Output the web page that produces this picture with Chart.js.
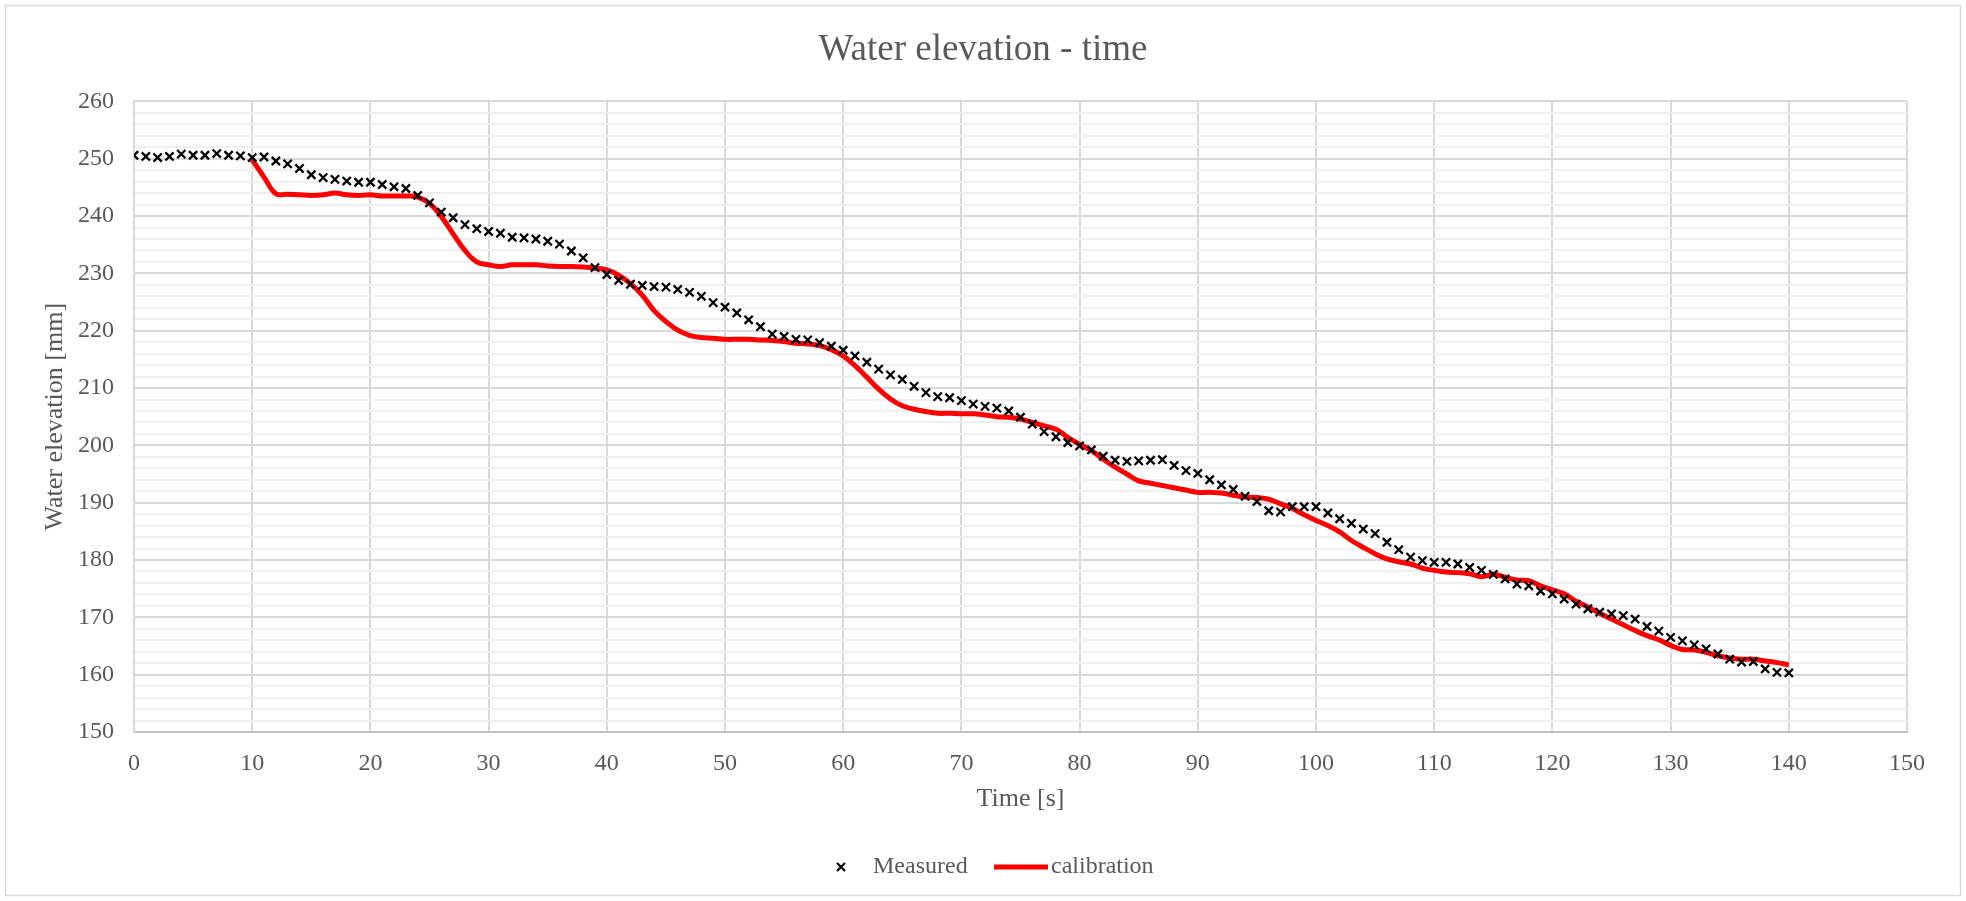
<!DOCTYPE html>
<html>
<head>
<meta charset="utf-8">
<title>Water elevation - time</title>
<script src="https://cdn.jsdelivr.net/npm/chart.js@4.4.1/dist/chart.umd.min.js"></script>
<style>
  html, body { margin: 0; padding: 0; background: #fff; }
  canvas { display: block; }
</style>
</head>
<body>
<canvas id="chart" width="1966" height="901"></canvas>
<script>
// Measured water elevation, one reading per second
const measuredTime = [
  0, 1, 2, 3, 4, 5, 6, 7, 8, 9, 10, 11, 12, 13, 14, 15, 16, 17, 18, 19,
  20, 21, 22, 23, 24, 25, 26, 27, 28, 29, 30, 31, 32, 33, 34, 35, 36, 37, 38, 39,
  40, 41, 42, 43, 44, 45, 46, 47, 48, 49, 50, 51, 52, 53, 54, 55, 56, 57, 58, 59,
  60, 61, 62, 63, 64, 65, 66, 67, 68, 69, 70, 71, 72, 73, 74, 75, 76, 77, 78, 79,
  80, 81, 82, 83, 84, 85, 86, 87, 88, 89, 90, 91, 92, 93, 94, 95, 96, 97, 98, 99,
  100, 101, 102, 103, 104, 105, 106, 107, 108, 109, 110, 111, 112, 113, 114, 115, 116, 117, 118, 119,
  120, 121, 122, 123, 124, 125, 126, 127, 128, 129, 130, 131, 132, 133, 134, 135, 136, 137, 138, 139,
  140
];
const measuredElevation = [
  250.6, 250.4, 250.2, 250.4, 250.8, 250.6, 250.6, 250.9, 250.6, 250.5,
  250.2, 250.3, 249.6, 249.1, 248.3, 247.2, 246.7, 246.4, 246.1, 245.9,
  245.9, 245.5, 245.1, 244.8, 243.6, 242.3, 240.7, 239.7, 238.5, 237.8,
  237.3, 237.0, 236.3, 236.2, 236.0, 235.6, 235.1, 233.9, 232.7, 231.0,
  229.8, 228.8, 228.1, 227.9, 227.7, 227.6, 227.2, 226.7, 226.0, 224.9,
  224.1, 223.1, 221.9, 220.7, 219.4, 219.0, 218.5, 218.4, 217.9, 217.3,
  216.6, 215.6, 214.5, 213.3, 212.3, 211.5, 210.3, 209.2, 208.5, 208.3,
  207.8, 207.2, 206.8, 206.5, 206.0, 204.9, 203.7, 202.4, 201.5, 200.5,
  199.9, 199.2, 198.1, 197.4, 197.2, 197.3, 197.4, 197.5, 196.5, 195.6,
  195.1, 194.0, 193.1, 192.3, 191.1, 190.2, 188.6, 188.4, 189.3, 189.3,
  189.3, 188.2, 187.2, 186.4, 185.4, 184.6, 183.1, 181.8, 180.5, 179.9,
  179.6, 179.6, 179.3, 178.7, 178.2, 177.5, 176.7, 175.8, 175.5, 174.6,
  174.1, 173.2, 172.3, 171.5, 170.9, 170.6, 170.3, 169.7, 168.4, 167.6,
  166.5, 165.9, 165.2, 164.5, 163.6, 162.7, 162.2, 162.3, 161.0, 160.4,
  160.3
];

// Calibration curve, starts at t = 10 s
const calibrationTime = [
  10, 11, 12, 13, 14, 15, 16, 17, 18, 19,
  20, 21, 22, 23, 24, 25, 26, 27, 28, 29, 30, 31, 32, 33, 34, 35, 36, 37, 38, 39,
  40, 41, 42, 43, 44, 45, 46, 47, 48, 49, 50, 51, 52, 53, 54, 55, 56, 57, 58, 59,
  60, 61, 62, 63, 64, 65, 66, 67, 68, 69, 70, 71, 72, 73, 74, 75, 76, 77, 78, 79,
  80, 81, 82, 83, 84, 85, 86, 87, 88, 89, 90, 91, 92, 93, 94, 95, 96, 97, 98, 99,
  100, 101, 102, 103, 104, 105, 106, 107, 108, 109, 110, 111, 112, 113, 114, 115, 116, 117, 118, 119,
  120, 121, 122, 123, 124, 125, 126, 127, 128, 129, 130, 131, 132, 133, 134, 135, 136, 137, 138, 139,
  140
];
const calibrationElevation = [
  249.8, 246.8, 243.9, 243.8, 243.7, 243.6, 243.7, 244.0, 243.7, 243.6,
  243.7, 243.5, 243.5, 243.5, 243.3, 242.2, 239.9, 236.9, 234.0, 232.0,
  231.5, 231.2, 231.5, 231.5, 231.5, 231.3, 231.2, 231.2, 231.1, 230.9,
  230.6, 229.7, 228.2, 226.2, 223.5, 221.6, 220.1, 219.2, 218.8, 218.7,
  218.5, 218.5, 218.5, 218.4, 218.3, 218.1, 217.8, 217.7, 217.4, 216.7,
  215.6, 213.9, 211.9, 209.8, 208.1, 206.9, 206.3, 205.9, 205.6, 205.6,
  205.5, 205.5, 205.3, 205.0, 204.9, 204.6, 204.0, 203.4, 202.8, 201.4,
  200.2, 199.1, 197.6, 196.2, 195.0, 193.8, 193.4, 193.0, 192.6, 192.2,
  191.8, 191.8, 191.7, 191.3, 191.0, 190.9, 190.6, 189.8, 189.0, 187.9,
  186.9, 186.0, 184.9, 183.4, 182.2, 181.1, 180.2, 179.7, 179.3, 178.6,
  178.2, 177.9, 177.8, 177.6, 177.1, 177.5, 177.0, 176.5, 176.4, 175.5,
  174.8, 174.1, 172.8, 171.8, 170.7, 169.7, 168.7, 167.7, 166.8, 166.1,
  165.1, 164.4, 164.3, 163.9, 163.3, 162.9, 162.7, 162.7, 162.4, 162.1,
  161.7
];

const FONT = "'Liberation Serif', 'Times New Roman', serif";
const TEXT = '#595959';
const GRID_MAJOR = '#d9d9d9';
const GRID_MINOR = '#efefef';

const toPoints = (xs, ys) => xs.map((x, i) => ({ x, y: ys[i] }));

// white page + light frame around the whole chart
const framePlugin = {
  id: 'frame',
  beforeDraw(chart) {
    const { ctx, width, height } = chart;
    ctx.save();
    ctx.fillStyle = '#fff';
    ctx.fillRect(0, 0, width, height);
    ctx.strokeStyle = GRID_MAJOR;
    ctx.lineWidth = 1.5;
    ctx.strokeRect(5.5, 5.5, width - 11, height - 11);
    ctx.restore();
  },
};

// Excel-like legend under the axis title
const legendPlugin = {
  id: 'bottomLegend',
  afterDraw(chart) {
    const { ctx } = chart;
    const y = 867;
    ctx.save();
    ctx.strokeStyle = '#000';
    ctx.lineWidth = 2.2;
    const r = 4;
    ctx.beginPath();
    ctx.moveTo(841 - r, y - r); ctx.lineTo(841 + r, y + r);
    ctx.moveTo(841 - r, y + r); ctx.lineTo(841 + r, y - r);
    ctx.stroke();

    ctx.strokeStyle = '#ff0000';
    ctx.lineWidth = 5;
    ctx.beginPath();
    ctx.moveTo(994, y); ctx.lineTo(1048, y);
    ctx.stroke();

    ctx.fillStyle = TEXT;
    ctx.font = '24px ' + FONT;
    ctx.textBaseline = 'middle';
    ctx.textAlign = 'left';
    ctx.fillText('Measured', 873, y);
    ctx.fillText('calibration', 1051, y);
    ctx.restore();
  },
};

new Chart(document.getElementById('chart'), {
  type: 'scatter',
  data: {
    datasets: [
      {
        label: 'Measured',
        data: toPoints(measuredTime, measuredElevation),
        pointStyle: 'crossRot',
        pointRadius: 5.8,
        pointHoverRadius: 5.8,
        borderColor: '#000',
        backgroundColor: '#000',
        pointBorderWidth: 2.3,
        showLine: false,
        order: 1,
      },
      {
        label: 'calibration',
        data: toPoints(calibrationTime, calibrationElevation),
        showLine: true,
        borderColor: '#ff0000',
        backgroundColor: '#ff0000',
        borderWidth: 5,
        pointRadius: 0,
        tension: 0.4,
        order: 2,
      },
    ],
  },
  options: {
    responsive: false,
    animation: false,
    devicePixelRatio: 1,
    layout: { padding: { left: 5, right: 5, top: 5, bottom: 79 } },
    plugins: {
      legend: { display: false },
      tooltip: { enabled: false },
      title: {
        display: true,
        text: 'Water elevation - time',
        color: TEXT,
        font: { family: FONT, size: 37, weight: 'normal', lineHeight: 1.2 },
        padding: { top: 23, bottom: 29 },
      },
    },
    scales: {
      x: {
        type: 'linear',
        min: 0,
        max: 150,
        ticks: {
          stepSize: 10,
          autoSkip: false,
          color: TEXT,
          padding: 17,
          font: { family: FONT, size: 24 },
          maxRotation: 0,
        },
        grid: { color: GRID_MAJOR, lineWidth: 2, drawTicks: false },
        border: { color: '#bfbfbf', width: 2 },
        title: {
          display: true,
          text: 'Time [s]',
          color: TEXT,
          font: { family: FONT, size: 26, lineHeight: 1.2 },
          padding: { top: 0, bottom: 7 },
        },
        afterFit(scale) {
          scale.height = 90;
          scale.paddingRight = 59;
        },
      },
      y: {
        type: 'linear',
        min: 150,
        max: 260,
        ticks: {
          stepSize: 2,
          autoSkip: false,
          color: TEXT,
          padding: 20,
          font: { family: FONT, size: 24 },
          callback: (v) => (v % 10 === 0 ? String(v) : ''),
        },
        grid: {
          drawTicks: false,
          lineWidth: 2,
          color: (c) => (c.tick && c.tick.value % 10 === 0 ? GRID_MAJOR : GRID_MINOR),
        },
        border: { color: GRID_MAJOR, width: 2 },
        title: {
          display: true,
          text: 'Water elevation [mm]',
          color: TEXT,
          font: { family: FONT, size: 26, lineHeight: 1.2 },
          padding: { top: 35, bottom: 0 },
        },
        afterFit(scale) {
          scale.width = 129;
        },
      },
    },
  },
  plugins: [framePlugin, legendPlugin],
});
</script>
</body>
</html>
